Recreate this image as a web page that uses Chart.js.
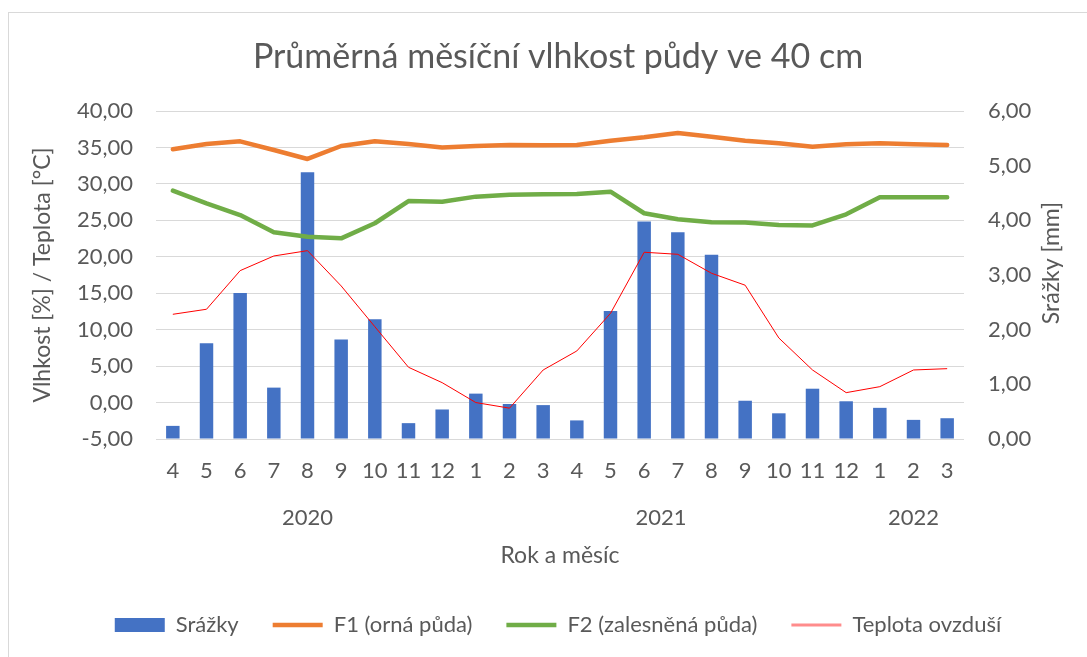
<!DOCTYPE html>
<html>
<head>
<meta charset="utf-8">
<script src="https://cdn.jsdelivr.net/npm/chart.js@4.4.1/dist/chart.umd.min.js"></script>
<style>
  html, body { margin: 0; background: #fff; }
</style>
</head>
<body>
<canvas id="soilChart" width="1087" height="657"></canvas>
<script>
// data
const months = ["4", "5", "6", "7", "8", "9", "10", "11", "12", "1", "2", "3",
	"4", "5", "6", "7", "8", "9", "10", "11", "12", "1", "2", "3"];
const years = ["2020", "2021", "2022"];
const yearFirst = [0, 9, 21];
const yearLast = [8, 20, 23];

const srazky = [0.24, 1.75, 2.67, 0.94, 4.88, 1.82, 2.19, 0.29, 0.54, 0.83, 0.64, 0.62,
	0.34, 2.34, 3.98, 3.78, 3.37, 0.70, 0.47, 0.92, 0.69, 0.57, 0.35, 0.38];
const f1 = [34.75, 35.47, 35.84, 34.65, 33.42, 35.20, 35.84, 35.47, 35.00, 35.20, 35.34, 35.30,
	35.34, 35.93, 36.39, 36.98, 36.48, 35.93, 35.57, 35.10, 35.43, 35.57, 35.43, 35.34];
const f2 = [29.07, 27.34, 25.73, 23.36, 22.76, 22.53, 24.60, 27.65, 27.56, 28.25, 28.52, 28.57,
	28.60, 28.93, 25.97, 25.14, 24.73, 24.70, 24.36, 24.30, 25.83, 28.16, 28.16, 28.16];
const teplota = [12.11, 12.80, 18.10, 20.11, 20.84, 16.00, 10.41, 4.84, 2.73, 0.00, -0.77, 4.47,
	7.08, 12.24, 20.62, 20.34, 17.74, 16.10, 8.86, 4.47, 1.36, 2.18, 4.47, 4.65];

const FONT = "Lato";
const TEXT = "#595959";
const GRID = "#D9D9D9";

Chart.defaults.font.family = FONT;
Chart.defaults.color = TEXT;

const fmt = (v) => v.toFixed(2).replace(".", ",");

// frame, year row under the months, right axis title (reads bottom-up like Excel)
const extras = {
	id: "extras",
	beforeDraw(chart) {
		const ctx = chart.ctx;
		ctx.save();
		ctx.fillStyle = "#fff";
		ctx.fillRect(0, 0, chart.width, chart.height);
		ctx.strokeStyle = GRID;
		ctx.lineWidth = 1;
		ctx.strokeRect(8.5, 12.5, 1300, 900);
		ctx.restore();
	},
	afterDraw(chart) {
		const ctx = chart.ctx;
		const x = chart.scales.x;
		const y1 = chart.scales.y1;
		const area = chart.chartArea;
		ctx.save();
		ctx.fillStyle = TEXT;
		ctx.font = "22px " + FONT;
		ctx.textAlign = "center";
		ctx.textBaseline = "middle";
		years.forEach((label, i) => {
			const cx = (x.getPixelForValue(yearFirst[i]) + x.getPixelForValue(yearLast[i])) / 2;
			ctx.fillText(label, cx, area.bottom + 79);
		});
		ctx.font = "23px " + FONT;
		ctx.translate(y1.right - 35, (area.top + area.bottom) / 2 - 12);
		ctx.rotate(-Math.PI / 2);
		ctx.fillText("Srážky [mm]", 0, 0);
		ctx.restore();
	}
};

new Chart(document.getElementById("soilChart"), {
	data: {
		labels: months,
		datasets: [
			{
				type: "bar",
				label: "Srážky",
				data: srazky,
				yAxisID: "y1",
				backgroundColor: "#4472C4",
				barPercentage: 0.4,
				categoryPercentage: 1,
				pointStyle: "rect",
				order: 4
			},
			{
				type: "line",
				label: "F1 (orná půda)",
				data: f1,
				yAxisID: "y",
				borderColor: "#ED7D31",
				backgroundColor: "#ED7D31",
				borderWidth: 4.5,
				borderCapStyle: "round",
				borderJoinStyle: "round",
				pointRadius: 0,
				pointStyle: "line",
				order: 2
			},
			{
				type: "line",
				label: "F2 (zalesněná půda)",
				data: f2,
				yAxisID: "y",
				borderColor: "#70AD47",
				backgroundColor: "#70AD47",
				borderWidth: 4.5,
				borderCapStyle: "round",
				borderJoinStyle: "round",
				pointRadius: 0,
				pointStyle: "line",
				order: 1
			},
			{
				type: "line",
				label: "Teplota ovzduší",
				data: teplota,
				yAxisID: "y",
				borderColor: "#FF0000",
				backgroundColor: "#FF0000",
				borderWidth: 1,
				pointRadius: 0,
				pointStyle: "line",
				order: 0
			}
		]
	},
	options: {
		responsive: false,
		animation: false,
		layout: {
			padding: { left: 29, right: 0, top: 0, bottom: 11 }
		},
		plugins: {
			title: {
				display: true,
				text: "Průměrná měsíční vlhkost půdy ve 40 cm",
				color: TEXT,
				font: { size: 34, weight: "normal" },
				padding: { top: 36.6, bottom: 33.6 }
			},
			legend: {
				position: "bottom",
				labels: {
					usePointStyle: true,
					pointStyleWidth: 50,
					boxHeight: 14,
					padding: 34,
					color: TEXT,
					font: { size: 22 },
					sort: (a, b) => a.datasetIndex - b.datasetIndex,
					generateLabels(chart) {
						const items = Chart.defaults.plugins.legend.labels.generateLabels(chart);
						items.forEach((it) => {
							if (it.datasetIndex === 3) {
								it.lineWidth = 3;
								it.strokeStyle = "rgba(255, 0, 0, 0.45)";
							}
						});
						return items;
					}
				}
			},
			tooltip: { enabled: false }
		},
		scales: {
			x: {
				offset: true,
				grid: { display: false, drawTicks: false },
				border: { display: false },
				ticks: {
					font: { size: 22 },
					padding: 19,
					maxRotation: 0,
					autoSkip: false
				},
				title: {
					display: true,
					text: "Rok a měsíc",
					font: { size: 23 },
					padding: { top: 0, bottom: 11 }
				},
				afterFit: (s) => { s.height = 141; }
			},
			y: {
				position: "left",
				min: -5,
				max: 40,
				grid: { color: GRID, lineWidth: 1, drawTicks: false },
				border: { display: false },
				ticks: {
					stepSize: 5,
					padding: 23,
					font: { size: 22 },
					callback: (v) => fmt(v)
				},
				title: {
					display: true,
					text: "Vlhkost [%] / Teplota [°C]",
					font: { size: 23 },
					padding: { top: 0, bottom: 0 }
				},
				afterFit: (s) => { s.width = 127; }
			},
			y1: {
				position: "right",
				min: 0,
				max: 6,
				grid: { drawOnChartArea: false, drawTicks: false },
				border: { display: false },
				ticks: {
					stepSize: 1,
					padding: 24,
					font: { size: 22 },
					callback: (v) => fmt(v)
				},
				afterFit: (s) => { s.width = 123; }
			}
		}
	},
	plugins: [extras]
});
</script>
</body>
</html>
